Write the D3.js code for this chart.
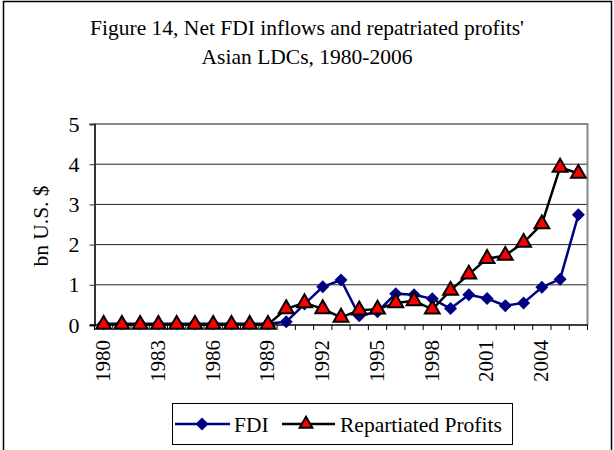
<!DOCTYPE html>
<html>
<head>
<meta charset="utf-8">
<style>
  body { margin: 0; background: #fff; }
  svg { display: block; font-family: "Liberation Serif", "Times New Roman", serif; }
</style>
</head>
<body>
<svg width="614" height="450"></svg>
<script src="https://d3js.org/d3.v7.min.js"></script>
<script>

var years = ["1980","1981","1982","1983","1984","1985","1986","1987","1988","1989",
             "1990","1991","1992","1993","1994","1995","1996","1997","1998","1999",
             "2000","2001","2002","2003","2004","2005","2006"];
var yearLabels = ["1980","1983","1986","1989","1992","1995","1998","2001","2004"];
var fdi = [0.03,0.03,0.03,0.03,0.03,0.03,0.03,0.03,0.03,0.03,
           0.08,0.52,0.95,1.12,0.23,0.33,0.78,0.75,0.65,0.41,
           0.75,0.66,0.48,0.55,0.94,1.14,2.74];
var profits = [0.01,0.01,0.01,0.01,0.01,0.01,0.01,0.01,0.01,0.01,
               0.40,0.55,0.40,0.19,0.37,0.39,0.55,0.60,0.39,0.86,
               1.26,1.65,1.73,2.05,2.51,3.92,3.77];
var yTicks = [0, 1, 2, 3, 4, 5];

var svg = d3.select("svg");

// outer frame
svg.append("rect")
    .attr("x", 3.5).attr("y", 1.5)
    .attr("width", 608).attr("height", 460)
    .attr("fill", "none").attr("stroke", "#000").attr("stroke-width", 1.5);

svg.append("text")
    .attr("x", 307).attr("y", 35)
    .attr("text-anchor", "middle")
    .attr("font-size", 21.5)
    .text("Figure 14, Net FDI inflows and repatriated profits'");
svg.append("text")
    .attr("x", 307).attr("y", 64)
    .attr("text-anchor", "middle")
    .attr("font-size", 21.5)
    .text("Asian LDCs, 1980-2006");

var x = d3.scaleBand().domain(years).range([94.5, 587.5]);
var y = d3.scaleLinear().domain([0, 5]).range([325, 124]);

// grid lines
svg.append("g").selectAll("line")
    .data(yTicks.filter(function(d) { return d > 0 && d < 5; }))
    .enter().append("line")
      .attr("x1", 94.5).attr("x2", 587.5)
      .attr("y1", function(d) { return y(d); })
      .attr("y2", function(d) { return y(d); })
      .attr("stroke", "#222").attr("stroke-width", 1);

// plot border top + right (gray)
svg.append("path")
    .attr("d", "M94.5," + y(5) + "H587.5V" + y(0))
    .attr("fill", "none").attr("stroke", "#888").attr("stroke-width", 2);

// y axis
var yAxis = svg.append("g")
    .attr("transform", "translate(94.5,0)")
    .call(d3.axisLeft(y).tickValues(yTicks).tickFormat(d3.format("d")).tickSize(5).tickPadding(10));
yAxis.select(".domain").attr("stroke", "#333").attr("stroke-width", 2);
yAxis.selectAll("line").attr("stroke", "#333");
yAxis.selectAll("text")
    .attr("font-family", "Liberation Serif, serif")
    .attr("font-size", 22).attr("fill", "#000");

// x axis: boundary ticks
var bounds = years.map(function(d) { return x(d); }).concat([x.range()[1]]);
svg.append("g").selectAll("line")
    .data(bounds)
    .enter().append("line")
      .attr("x1", function(d) { return d; }).attr("x2", function(d) { return d; })
      .attr("y1", y(0)).attr("y2", y(0) + 5)
      .attr("stroke", "#000");
svg.append("line")
    .attr("x1", 90).attr("x2", 587.5)
    .attr("y1", y(0)).attr("y2", y(0))
    .attr("stroke", "#000").attr("stroke-width", 1.5);

// x labels
svg.append("g").selectAll("text")
    .data(yearLabels)
    .enter().append("text")
      .attr("transform", function(d) {
        return "translate(" + (x(d) + x.bandwidth() / 2 - 1) + "," + (y(0) + 15) + ") rotate(-90)";
      })
      .attr("text-anchor", "end")
      .attr("dy", "0.35em")
      .attr("font-size", 21)
      .text(function(d) { return d; });

// y label
svg.append("text")
    .attr("transform", "translate(40,226) rotate(-90)")
    .attr("text-anchor", "middle")
    .attr("dy", "0.35em")
    .attr("font-size", 21.5)
    .text("bn U.S. $");

var cx = function(d, i) { return x(years[i]) + x.bandwidth() / 2; };
var diamond = "M0,-6.5L6.5,0L0,6.5L-6.5,0Z";
var triangle = d3.symbol().type(d3.symbolTriangle).size(95);

var line = d3.line()
    .x(function(d, i) { return cx(d, i); })
    .y(function(d) { return y(d); });

svg.append("path")
    .datum(fdi)
    .attr("d", line)
    .attr("fill", "none").attr("stroke", "#000080").attr("stroke-width", 2.5);
svg.append("g").selectAll("path")
    .data(fdi)
    .enter().append("path")
      .attr("d", diamond)
      .attr("transform", function(d, i) { return "translate(" + cx(d, i) + "," + y(d) + ")"; })
      .attr("fill", "#000080");

svg.append("path")
    .datum(profits)
    .attr("d", line)
    .attr("fill", "none").attr("stroke", "#000").attr("stroke-width", 2.5);
svg.append("g").selectAll("path")
    .data(profits)
    .enter().append("path")
      .attr("d", triangle)
      .attr("transform", function(d, i) { return "translate(" + cx(d, i) + "," + y(d) + ")"; })
      .attr("fill", "#ff0000").attr("stroke", "#000").attr("stroke-width", 2);

// legend
var lg = svg.append("g");
lg.append("rect")
    .attr("x", 172.5).attr("y", 403.5)
    .attr("width", 340).attr("height", 41)
    .attr("fill", "#fff").attr("stroke", "#000");
lg.append("line")
    .attr("x1", 175).attr("x2", 230).attr("y1", 424).attr("y2", 424)
    .attr("stroke", "#000080").attr("stroke-width", 2.5);
lg.append("path")
    .attr("d", diamond)
    .attr("transform", "translate(202,424)")
    .attr("fill", "#000080");
lg.append("text")
    .attr("x", 234).attr("y", 424).attr("dy", "0.35em")
    .attr("font-size", 21.5)
    .text("FDI");
lg.append("line")
    .attr("x1", 282).attr("x2", 335).attr("y1", 424).attr("y2", 424)
    .attr("stroke", "#000").attr("stroke-width", 2.5);
lg.append("path")
    .attr("d", d3.symbol().type(d3.symbolTriangle).size(70))
    .attr("transform", "translate(306,424)")
    .attr("fill", "#ff0000").attr("stroke", "#000").attr("stroke-width", 2);
lg.append("text")
    .attr("x", 340).attr("y", 424).attr("dy", "0.35em")
    .attr("font-size", 21.5)
    .text("Repartiated Profits");

</script>
</body>
</html>
